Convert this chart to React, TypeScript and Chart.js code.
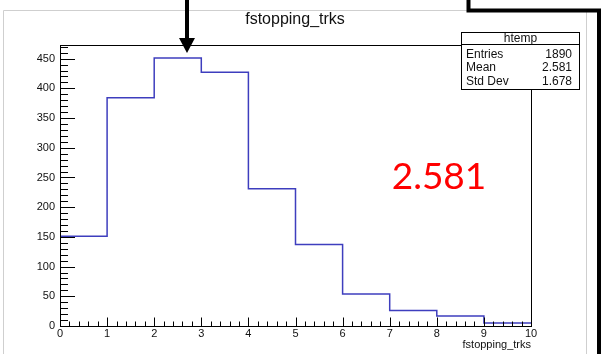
import React, { useEffect, useRef } from "react";
import { Chart, registerables } from "chart.js";

Chart.register(...registerables);

// Histogram of stopping tracks per event (ROOT-style step histogram)
const binEdges = [0, 1, 2, 3, 4, 5, 6, 7, 8, 9, 10];
const binCounts = [151, 384, 451, 427, 231, 137, 54, 26, 17, 5];
const yTickStep = 50;
const yMax = 473;

const histTitle = "fstopping_trks";
const xAxisTitle = "fstopping_trks";
const statsName = "htemp";
const statLabels = ["Entries", "Mean", "Std Dev"];
const statValues = ["1890", "2.581", "1.678"];
const meanCallout = "2.581";
const arrowValue = 2.7;

const SANS = '"Liberation Sans", Helvetica, Arial, sans-serif';

const decorations = {
  id: "rootDecorations",
  afterDraw(chart: any) {
    const { ctx, chartArea: a, scales } = chart;
    const x = scales.x;
    const y = scales.y;
    ctx.save();

    // inward ticks on both axes
    ctx.strokeStyle = "#000";
    ctx.lineWidth = 1;
    ctx.beginPath();
    for (let v = 0; v <= yMax; v += 10) {
      const py = Math.round(y.getPixelForValue(v)) + 0.5;
      const len = v % yTickStep === 0 ? 15 : 8;
      ctx.moveTo(a.left, py);
      ctx.lineTo(a.left + len, py);
    }
    for (let k = 0; k <= 50; k++) {
      const px = Math.round(x.getPixelForValue(k / 5)) + 0.5;
      const len = k % 5 === 0 ? 8.5 : 4.5;
      ctx.moveTo(px, a.bottom);
      ctx.lineTo(px, a.bottom - len);
    }
    ctx.stroke();

    // frame
    ctx.strokeRect(Math.round(a.left) + 0.5, Math.round(a.top) + 0.5, Math.round(a.right - a.left), Math.round(a.bottom - a.top));

    // pad border
    ctx.strokeStyle = "#cfcfcf";
    ctx.beginPath();
    ctx.moveTo(3.5, 354);
    ctx.lineTo(3.5, 10.5);
    ctx.lineTo(470, 10.5);
    ctx.moveTo(586.5, 11);
    ctx.lineTo(586.5, 354);
    ctx.stroke();

    // title
    ctx.fillStyle = "#111";
    ctx.font = `16px ${SANS}`;
    ctx.textAlign = "center";
    ctx.textBaseline = "middle";
    ctx.fillText(histTitle, 295, 20);

    // x-axis title
    ctx.font = `11px ${SANS}`;
    ctx.textAlign = "right";
    ctx.fillText(xAxisTitle, a.right, 345);

    // statistics box
    const bx = 461.5, by = 32.5, bw = 118, bh = 57;
    ctx.fillStyle = "#fff";
    ctx.fillRect(bx, by, bw, bh);
    ctx.strokeStyle = "#000";
    ctx.strokeRect(bx, by, bw, bh);
    ctx.beginPath();
    ctx.moveTo(bx, 44.5);
    ctx.lineTo(bx + bw, 44.5);
    ctx.stroke();
    ctx.fillStyle = "#111";
    ctx.font = `12px ${SANS}`;
    ctx.textAlign = "center";
    ctx.fillText(statsName, bx + bw / 2, 38.5);
    statLabels.forEach((lab, i) => {
      const ry = 54.5 + i * 13.5;
      ctx.textAlign = "left";
      ctx.fillText(lab, 466, ry);
      ctx.textAlign = "right";
      ctx.fillText(statValues[i], 572, ry);
    });

    // mean callout
    ctx.fillStyle = "#ff0000";
    ctx.font = `37px Lato, "Liberation Sans", sans-serif`;
    ctx.textAlign = "center";
    ctx.textBaseline = "alphabetic";
    ctx.fillText(meanCallout, 439, 189);

    // arrow marking the mean
    const ax = Math.round(x.getPixelForValue(arrowValue));
    ctx.fillStyle = "#000";
    ctx.fillRect(ax - 2, 0, 4, 40);
    ctx.beginPath();
    ctx.moveTo(ax - 8, 38);
    ctx.lineTo(ax + 8, 38);
    ctx.lineTo(ax, 53);
    ctx.closePath();
    ctx.fill();

    // bracket line along the top right
    ctx.strokeStyle = "#000";
    ctx.lineWidth = 4;
    ctx.lineJoin = "miter";
    ctx.beginPath();
    ctx.moveTo(468.5, 0);
    ctx.lineTo(468.5, 10.5);
    ctx.lineTo(599, 10.5);
    ctx.lineTo(599, 354);
    ctx.stroke();

    ctx.restore();
  },
};

export default function App() {
  const canvasRef = useRef<HTMLCanvasElement | null>(null);

  useEffect(() => {
    const canvas = canvasRef.current;
    if (!canvas) return;
    const points = binCounts.map((c, i) => ({ x: binEdges[i], y: c }));
    points.push({ x: binEdges[binEdges.length - 1], y: binCounts[binCounts.length - 1] });

    const chart = new Chart(canvas, {
      type: "line",
      data: {
        datasets: [
          {
            data: points,
            stepped: "before",
            borderColor: "rgb(62,62,190)",
            borderWidth: 1.5,
            pointRadius: 0,
            fill: false,
          },
        ],
      },
      options: {
        responsive: false,
        animation: false,
        devicePixelRatio: 1,
        layout: { padding: { left: 0, top: 45, right: 72, bottom: 0 } },
        plugins: { legend: { display: false }, tooltip: { enabled: false } },
        scales: {
          x: {
            type: "linear",
            min: 0,
            max: 10,
            ticks: {
              stepSize: 1,
              color: "#111",
              font: { size: 11, family: SANS },
              padding: 1,
              maxRotation: 0,
            },
            grid: { display: false, drawTicks: false },
            border: { display: false },
            afterFit: (s: any) => {
              s.height = 28;
            },
          },
          y: {
            type: "linear",
            min: 0,
            max: yMax,
            afterBuildTicks: (s: any) => {
              const t = [];
              for (let v = 0; v <= yMax; v += yTickStep) t.push({ value: v });
              s.ticks = t;
            },
            ticks: {
              color: "#111",
              font: { size: 11, family: SANS },
              padding: 5,
            },
            grid: { display: false, drawTicks: false },
            border: { display: false },
            afterFit: (s: any) => {
              s.width = 60;
            },
          },
        },
      },
      plugins: [decorations],
    });
    return () => chart.destroy();
  }, []);

  return (
    <div style={{ position: "fixed", left: 0, top: 0, width: 603, height: 354, background: "#fff" }}>
      <canvas ref={canvasRef} width={603} height={354} style={{ width: 603, height: 354, display: "block" }} />
    </div>
  );
}
